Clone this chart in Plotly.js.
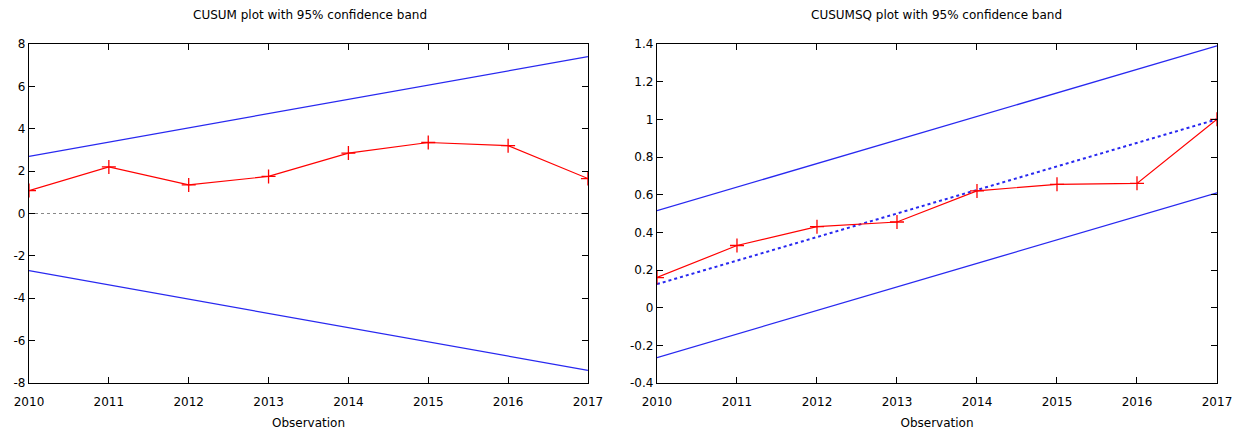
<!DOCTYPE html>
<html>
<head>
<meta charset="utf-8">
<script src="https://cdn.plot.ly/plotly-3.0.1.min.js"></script>
<style>html,body{margin:0;padding:0;background:#fff;}#chart{width:1245px;height:441px;}</style>
</head>
<body>
<div id="chart"></div>
<script>
const years = [2010, 2011, 2012, 2013, 2014, 2015, 2016, 2017];
const cusum = [1.08, 2.2, 1.35, 1.75, 2.85, 3.35, 3.2, 1.65];
const bandYears = [2010, 2017];
const cusumUpper = [2.7, 7.4];
const cusumLower = [-2.7, -7.4];
const cusumZero = [0, 0];

const cusumsq = [0.16, 0.33, 0.43, 0.455, 0.62, 0.655, 0.66, 1.0];
const sqExpected = [0.125, 1.0];
const sqUpper = [0.515, 1.39];
const sqLower = [-0.265, 0.61];

const xTicks = [2010, 2011, 2012, 2013, 2014, 2015, 2016, 2017];
const yTicksLeft = [-8, -6, -4, -2, 0, 2, 4, 6, 8];
const yTicksRight = [-0.4, -0.2, 0, 0.2, 0.4, 0.6, 0.8, 1, 1.2, 1.4];

const blue = '#2828f0';
const red = '#ff0000';
const font = 'DejaVu Sans, Verdana, sans-serif';

const traces = [
  {x: bandYears, y: cusumZero, xaxis: 'x', yaxis: 'y', mode: 'lines', line: {color: '#888', width: 1, dash: 'dot'}},
  {x: bandYears, y: cusumUpper, xaxis: 'x', yaxis: 'y', mode: 'lines', line: {color: blue, width: 1.3}},
  {x: bandYears, y: cusumLower, xaxis: 'x', yaxis: 'y', mode: 'lines', line: {color: blue, width: 1.3}},
  {x: years, y: cusum, xaxis: 'x', yaxis: 'y', mode: 'lines+markers', line: {color: red, width: 1.2},
   marker: {symbol: 'cross-thin', size: 10, line: {color: red, width: 1.3}}},
  {x: bandYears, y: sqUpper, xaxis: 'x2', yaxis: 'y2', mode: 'lines', line: {color: blue, width: 1.3}},
  {x: bandYears, y: sqLower, xaxis: 'x2', yaxis: 'y2', mode: 'lines', line: {color: blue, width: 1.3}},
  {x: bandYears, y: sqExpected, xaxis: 'x2', yaxis: 'y2', mode: 'lines', line: {color: blue, width: 2, dash: 'dot'}},
  {x: years, y: cusumsq, xaxis: 'x2', yaxis: 'y2', mode: 'lines+markers', line: {color: red, width: 1.2},
   marker: {symbol: 'cross-thin', size: 10, line: {color: red, width: 1.3}}}
];

function xax(domain, anchor) {
  return {domain: domain, anchor: anchor, range: [2010, 2017], tickvals: xTicks, ticktext: xTicks.map(String),
    showgrid: false, zeroline: false, showline: true, linecolor: '#000', linewidth: 1.2, mirror: 'ticks',
    ticks: 'inside', ticklen: 6, tickcolor: '#000', ticklabelstandoff: 7,
    tickfont: {family: font, size: 12, color: '#000'},
    title: {text: 'Observation', font: {family: font, size: 12, color: '#000'}, standoff: 11}};
}
function yax(range, ticks, anchor) {
  return {domain: [0, 1], anchor: anchor, range: range, tickvals: ticks, ticktext: ticks.map(String),
    showgrid: false, zeroline: false, showline: true, linecolor: '#000', linewidth: 1.2, mirror: 'ticks',
    ticks: 'inside', ticklen: 6, tickcolor: '#000', tickfont: {family: font, size: 12, color: '#000'}};
}

const layout = {
  width: 1245, height: 441,
  margin: {l: 29, r: 28, t: 44, b: 58},
  paper_bgcolor: '#fff', plot_bgcolor: '#fff',
  showlegend: false,
  font: {family: font, size: 12, color: '#000'},
  xaxis: xax([0, 0.4705], 'y'),
  yaxis: yax([-8, 8], yTicksLeft, 'x'),
  xaxis2: xax([0.5286, 1], 'y2'),
  yaxis2: yax([-0.4, 1.4], yTicksRight, 'x2'),
  annotations: [
    {text: 'CUSUM plot with 95% confidence band', xref: 'paper', yref: 'paper', x: 0.2365, y: 1,
     xanchor: 'center', yanchor: 'middle', yshift: 29, showarrow: false,
     font: {family: font, size: 12, color: '#000'}},
    {text: 'CUSUMSQ plot with 95% confidence band', xref: 'paper', yref: 'paper', x: 0.7643, y: 1,
     xanchor: 'center', yanchor: 'middle', yshift: 29, showarrow: false,
     font: {family: font, size: 12, color: '#000'}}
  ]
};

Plotly.newPlot('chart', traces, layout, {displayModeBar: false, staticPlot: true});
</script>
</body>
</html>
